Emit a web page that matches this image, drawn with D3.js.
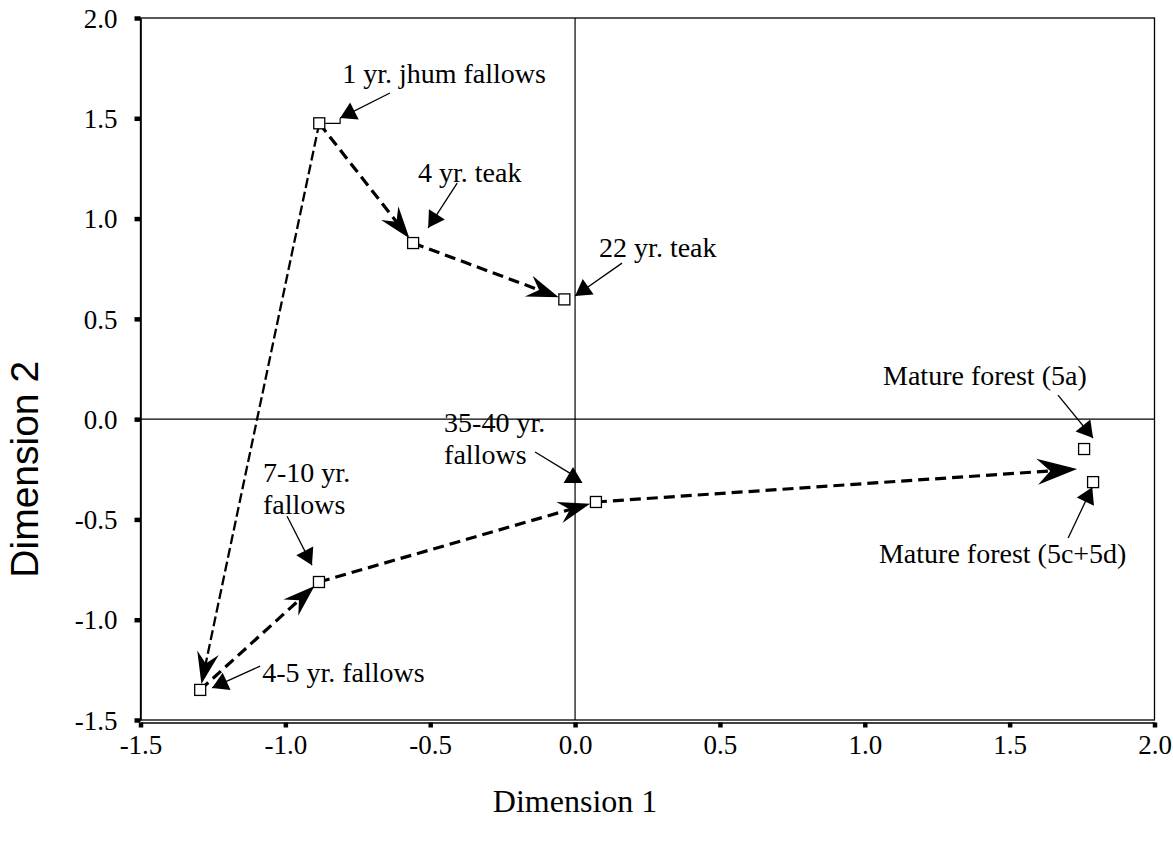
<!DOCTYPE html>
<html>
<head>
<meta charset="utf-8">
<script src="https://cdn.jsdelivr.net/npm/d3@7"></script>
<style>
  html, body { margin: 0; padding: 0; background: #fff; }
  svg text { fill: #000; }
</style>
</head>
<body>
<svg id="chart" width="1173" height="848"></svg>
<script>
// Ordination scores of the land-use stages
const categories = [
  "1 yr. jhum fallows", "4 yr. teak", "22 yr. teak", "4-5 yr. fallows",
  "7-10 yr. fallows", "35-40 yr. fallows", "Mature forest (5a)", "Mature forest (5c+5d)"
];
const dim1 = [-0.883, -0.559, -0.037, -1.294, -0.884, 0.072, 1.757, 1.788];
const dim2 = [1.475, 0.878, 0.597, -1.350, -0.812, -0.413, -0.149, -0.314];

// Successional trajectories (index of stage -> index of stage; -1 = mature forest group)
const trajFrom = [0, 1, 0, 3, 4, 5];
const trajTo   = [1, 2, 3, 4, 5, -1];
const matureGroup = [1.733, -0.249];

const xTicks = [-1.5, -1.0, -0.5, 0.0, 0.5, 1.0, 1.5, 2.0];
const yTicks = [-1.5, -1.0, -0.5, 0.0, 0.5, 1.0, 1.5, 2.0];

// Label text lines, anchor (data units) and callout line (start -> tip, data units)
const labelLines = [
  ["1 yr. jhum fallows"], ["4 yr. teak"], ["22 yr. teak"], ["4-5 yr. fallows"],
  ["7-10 yr.", "fallows"], ["35-40 yr.", "fallows"], ["Mature forest (5a)"], ["Mature forest (5c+5d)"]
];
const labelAt = [
  [-0.804, 1.675], [-0.542, 1.182], [0.083, 0.808], [-1.080, -1.310],
  [-1.077, -0.314], [-0.452, -0.064], [1.063, 0.170], [1.049, -0.718]
];
const calloutFrom = [
  [-0.639, 1.626], [-0.407, 1.177], [0.162, 0.778], [-1.087, -1.231],
  [-0.994, -0.484], [-0.138, -0.164], [1.667, 0.120], [1.702, -0.593]
];
const calloutTo = [
  [-0.811, 1.501], [-0.507, 0.954], [0.000, 0.614], [-1.253, -1.340],
  [-0.908, -0.728], [-0.007, -0.239], [1.788, -0.094], [1.785, -0.339]
];

const svg = d3.select("#chart");
const serif = "'Liberation Serif', 'Times New Roman', serif";
const sans = "'Liberation Sans', Arial, sans-serif";

const x = d3.scaleLinear().domain([-1.5, 2.0]).range([140.5, 1154.5]);
const y = d3.scaleLinear().domain([-1.5, 2.0]).range([720, 18]);
const fmt = d => d.toFixed(1);

// Plot frame
svg.append("rect")
  .attr("x", x(-1.5)).attr("y", y(2.0))
  .attr("width", x(2.0) - x(-1.5)).attr("height", y(-1.5) - y(2.0))
  .attr("fill", "none").attr("stroke", "#000").attr("stroke-width", 1.3);

// Reference lines through the origin
svg.append("line")
  .attr("x1", x(-1.5)).attr("x2", x(2.0)).attr("y1", y(0)).attr("y2", y(0))
  .attr("stroke", "#000").attr("stroke-width", 1.2);
svg.append("line")
  .attr("x1", x(0)).attr("x2", x(0)).attr("y1", y(2.0)).attr("y2", y(-1.5))
  .attr("stroke", "#000").attr("stroke-width", 1.2);

// Axes
const xAxis = svg.append("g")
  .attr("transform", `translate(0,${y(-1.5) + 2.5})`)
  .call(d3.axisBottom(x).tickValues(xTicks).tickFormat(fmt).tickSizeInner(5).tickSizeOuter(0).tickPadding(6));
const yAxis = svg.append("g")
  .attr("transform", `translate(${x(-1.5)},0)`)
  .call(d3.axisLeft(y).tickValues(yTicks).tickFormat(fmt).tickSizeInner(6).tickSizeOuter(0).tickPadding(17));

[xAxis, yAxis].forEach(g => {
  g.select(".domain").attr("stroke", "#000").attr("stroke-width", 1.6);
  g.selectAll(".tick line").attr("stroke", "#000").attr("stroke-width", 4.5);
  g.selectAll(".tick text")
    .attr("font-family", serif).attr("font-size", 27).attr("fill", "#000");
});
xAxis.selectAll(".tick text").attr("dy", "0.75em");
yAxis.selectAll(".tick text").attr("dy", "0.34em");

// Axis titles
svg.append("text")
  .attr("x", x(0.0)).attr("y", 812)
  .attr("text-anchor", "middle")
  .style("font-family", serif).style("font-size", "32px")
  .text("Dimension 1");
svg.append("text")
  .attr("transform", `translate(38,${y(-0.25)}) rotate(-90)`)
  .attr("text-anchor", "middle")
  .style("font-family", sans).style("font-size", "39px")
  .text("Dimension 2");

// Stealth (notched) arrowhead pointing along +x with its tip at the origin
function stealth(len, half, notch) {
  return `M0,0 L${-len},${-half} L${-len + notch},0 L${-len},${half} Z`;
}

// Trajectory arrows
const segs = trajFrom.map((f, i) => {
  const t = trajTo[i];
  const x1 = x(dim1[f]), y1 = y(dim2[f]);
  const x2 = t < 0 ? x(matureGroup[0]) : x(dim1[t]);
  const y2 = t < 0 ? y(matureGroup[1]) : y(dim2[t]);
  return { x1, y1, x2, y2, last: t < 0, long: f === 0 && t === 3 };
});

const segG = svg.append("g");
segs.forEach(s => {
  const dx = s.x2 - s.x1, dy = s.y2 - s.y1;
  const len = Math.hypot(dx, dy);
  const ux = dx / len, uy = dy / len;
  const back = s.last ? 0 : 6;
  const tx = s.x2 - ux * back, ty = s.y2 - uy * back;
  const ang = Math.atan2(dy, dx) * 180 / Math.PI;
  const headLen = s.last ? 40 : 32;
  segG.append("line")
    .attr("x1", s.x1).attr("y1", s.y1)
    .attr("x2", tx - ux * (headLen - 12)).attr("y2", ty - uy * (headLen - 12))
    .attr("stroke", "#000")
    .attr("stroke-width", s.long ? 2.3 : 3.2)
    .attr("stroke-dasharray", s.long ? "10,4" : "11,6");
  segG.append("path")
    .attr("d", s.last ? stealth(40, 13, 13) : stealth(32, 11, 11))
    .attr("transform", `translate(${tx},${ty}) rotate(${ang})`)
    .attr("fill", "#000");
});

// Callout lines with triangular heads
const callG = svg.append("g");
calloutFrom.forEach((c, i) => {
  const sx = x(c[0]), sy = y(c[1]);
  const ex = x(calloutTo[i][0]), ey = y(calloutTo[i][1]);
  // the 35-40 yr. head stands upright beneath its label
  const upright = i === 5;
  const ang = upright ? -90 : Math.atan2(ey - sy, ex - sx) * 180 / Math.PI;
  const ly = upright ? ey + 8 : ey;
  callG.append("line")
    .attr("x1", sx).attr("y1", sy).attr("x2", ex).attr("y2", ly)
    .attr("stroke", "#000").attr("stroke-width", 1.3);
  callG.append("path")
    .attr("d", "M0,0 L-16,-9.5 L-16,9.5 Z")
    .attr("transform", `translate(${ex},${ey}) rotate(${ang})`)
    .attr("fill", "#000");
});

// Small leader next to the 1 yr. jhum fallows marker
callG.append("path")
  .attr("d", `M${x(dim1[0]) + 6},${y(dim2[0])} H${x(calloutTo[0][0])} V${y(dim2[0]) - 5}`)
  .attr("fill", "none").attr("stroke", "#000").attr("stroke-width", 1.2);

// Stage markers
svg.append("g").selectAll("rect")
  .data(categories.map((c, i) => ({ c, v1: dim1[i], v2: dim2[i] })))
  .join("rect")
  .attr("x", d => x(d.v1) - 5.5).attr("y", d => y(d.v2) - 5.5)
  .attr("width", 11).attr("height", 11)
  .attr("fill", "#fff").attr("stroke", "#000").attr("stroke-width", 1.3);

// Stage labels
const labG = svg.append("g")
  .style("font-family", serif).style("font-size", "28px");
labelLines.forEach((lines, i) => {
  const t = labG.append("text")
    .attr("x", x(labelAt[i][0])).attr("y", y(labelAt[i][1]));
  lines.forEach((ln, k) => {
    t.append("tspan")
      .attr("x", x(labelAt[i][0]))
      .attr("dy", k === 0 ? 0 : 32)
      .text(ln);
  });
});
</script>
</body>
</html>
